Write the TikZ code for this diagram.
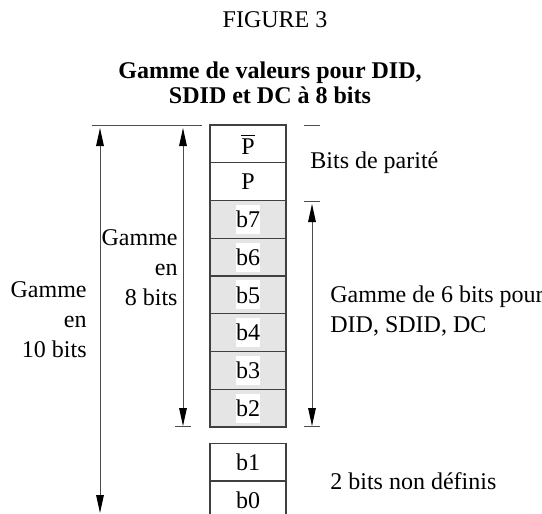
\documentclass[tikz,border=0pt]{standalone}
\usepackage{amsmath}
\usepackage{fontspec}
\setmainfont{Liberation Serif}
\usetikzlibrary{arrows.meta}

\begin{document}
\begin{tikzpicture}[x=0.5pt, y=-0.5pt,
	font=\fontsize{12}{15}\selectfont,
	cell/.style={draw=black!75, line width=0.6pt, minimum width=38pt, minimum height=18.875pt, inner sep=0pt},
	shaded/.style={fill=black!10},
	bitlbl/.style={fill=white, inner xsep=0pt, inner ysep=0pt, minimum height=14.5pt},
	bitrange/.style={draw=black!70, line width=0.5pt, {Triangle[length=9pt,width=3.8pt,black]}-{Triangle[length=9pt,width=3.8pt,black]}},
	tick/.style={draw=black!70, line width=0.5pt}]
	\useasboundingbox (0,0) rectangle (542,514);
	%% Titles
	\node[inner sep=0pt] (fig) at (275,20) {FIGURE 3};
	\node[inner sep=0pt, align=center, font=\fontsize{12}{12.5}\selectfont\bfseries]
		(title) at (270,83) {Gamme de valeurs pour DID,\\SDID et DC à 8 bits};
	%% Word cells
	\node[cell] (pbar) at (248,143.9) {$\overline{\text{P}}$};
	\node[cell] (p) at (248,181.6) {P};
	\node[cell, shaded, label={[bitlbl]center:b7}] (b7) at (248,219.4) {};
	\node[cell, shaded, label={[bitlbl]center:b6}] (b6) at (248,257.1) {};
	\node[cell, shaded, label={[bitlbl]center:b5}] (b5) at (248,294.9) {};
	\node[cell, shaded, label={[bitlbl]center:b4}] (b4) at (248,332.6) {};
	\node[cell, shaded, label={[bitlbl]center:b3}] (b3) at (248,370.4) {};
	\node[cell, shaded, label={[bitlbl]center:b2}] (b2) at (248,408.1) {};
	\node[cell] (b1) at (248,462) {b1};
	\node[cell] (b0) at (248,500) {b0};
	%% Ticks
	\draw[tick] (92,125) -- (202,125);
	\draw[tick] (175,426) -- (191,426);
	\draw[tick] (304,125) -- (320,125);
	\draw[tick] (304,201) -- (320,201);
	\draw[tick] (304,426) -- (320,426);
	%% Ranges
	\coordinate (top10) at (100,128);
	\coordinate (bot10) at (100,513);
	\coordinate (top8) at (183,128);
	\coordinate (bot8) at (183,426);
	\coordinate (top6) at (312,204);
	\coordinate (bot6) at (312,426);
	\draw[bitrange] (bot10) -- (top10);
	\draw[bitrange] (bot8) -- (top8);
	\draw[bitrange] (bot6) -- (top6);
	%% Labels
	\node[inner sep=0pt, anchor=east, align=right] (lbl10) at (87,320) {Gamme\\en\\10 bits};
	\node[inner sep=0pt, anchor=east, align=right] (lbl8) at (178,268) {Gamme\\en\\8 bits};
	\node[inner sep=0pt, anchor=west] (parity) at (310,162.4) {Bits de parité};
	\node[inner sep=0pt, anchor=west, align=left] (lbl6) at (330,311) {Gamme de 6 bits pour\\DID, SDID, DC};
	\node[inner sep=0pt, anchor=west] (undef) at (330,481) {2 bits non définis};
\end{tikzpicture}
\end{document}
